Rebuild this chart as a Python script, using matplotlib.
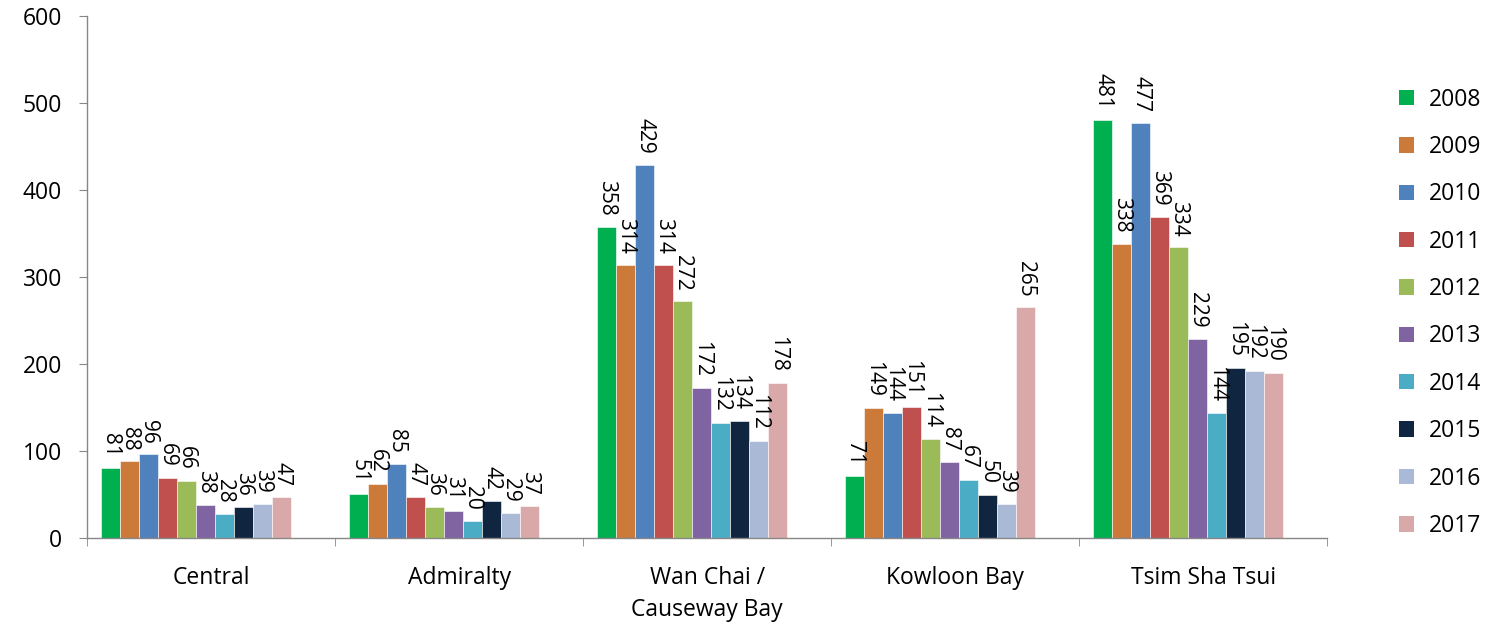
import numpy as np
import matplotlib
matplotlib.use("Agg")
import matplotlib.pyplot as plt
from matplotlib.patches import Patch

plt.rcParams['font.family'] = ['Open Sans', 'DejaVu Sans']

districts = ["Central", "Admiralty", "Wan Chai /\nCauseway Bay", "Kowloon Bay", "Tsim Sha Tsui"]
years = ["2008", "2009", "2010", "2011", "2012", "2013", "2014", "2015", "2016", "2017"]

v2008 = [81, 51, 358, 71, 481]
v2009 = [88, 62, 314, 149, 338]
v2010 = [96, 85, 429, 144, 477]
v2011 = [69, 47, 314, 151, 369]
v2012 = [66, 36, 272, 114, 334]
v2013 = [38, 31, 172, 87, 229]
v2014 = [28, 20, 132, 67, 144]
v2015 = [36, 42, 134, 50, 195]
v2016 = [39, 29, 112, 39, 192]
v2017 = [47, 37, 178, 265, 190]
series = [v2008, v2009, v2010, v2011, v2012, v2013, v2014, v2015, v2016, v2017]

colors = ["#00B050", "#CC7A3A", "#4F81BD", "#C0504D", "#9BBB59",
          "#8064A2", "#4BACC6", "#10253F", "#A9B9D6", "#D9A8A8"]

fig = plt.figure(figsize=(14.93, 6.30), dpi=100)
ax = fig.add_axes([0.0583, 0.146, 0.8306, 0.8286])

x = np.arange(len(districts))
bw = 0.0766
shift = -0.06
n = len(series)
for i, (vals, c) in enumerate(zip(series, colors)):
    pos = x + shift + (i - (n - 1) / 2) * bw
    ax.bar(pos, vals, width=bw, color=c, edgecolor="white", linewidth=0.4)
    for px, v in zip(pos, vals):
        ax.annotate(str(v), (px, v), xytext=(0, 8), textcoords="offset points",
                    rotation=-90, ha="center", va="bottom", fontsize=15,
                    color="black")

ax.set_xlim(-0.5, len(districts) - 0.5)
ax.set_ylim(0, 600)
ax.set_yticks(range(0, 601, 100))
ax.set_xticks(x)
ax.set_xticklabels(districts, fontsize=16.5, linespacing=1.45)
ax.set_xticks(np.arange(-0.5, len(districts), 1.0), minor=True)
ax.tick_params(axis="x", which="major", length=0, pad=20)
ax.tick_params(axis="x", which="minor", length=6, color="#878787", direction="out")
ax.tick_params(axis="y", length=6, color="#878787", direction="out", labelsize=16.5, pad=12)

for s in ["top", "right"]:
    ax.spines[s].set_visible(False)
for s in ["left", "bottom"]:
    ax.spines[s].set_color("#878787")
    ax.spines[s].set_linewidth(1.0)

handles = [Patch(facecolor=c, edgecolor="none") for c in colors]
fig.legend(handles, years, loc="upper left", bbox_to_anchor=(0.937, 0.861),
           frameon=False, fontsize=16.5, handlelength=0.65, handleheight=0.65,
           labelspacing=1.02, handletextpad=0.65, borderaxespad=0, borderpad=0)

fig.savefig("out.png", dpi=100)
